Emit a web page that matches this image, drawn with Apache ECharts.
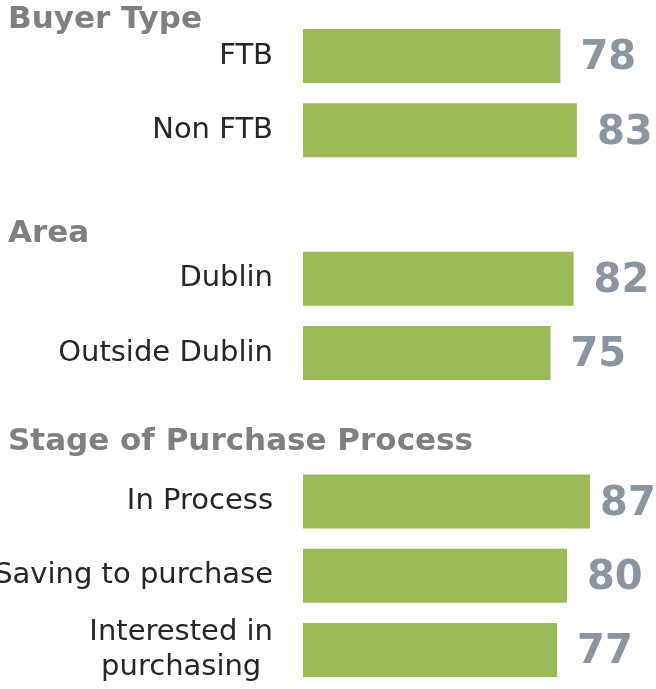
<!DOCTYPE html>
<html><head><meta charset="utf-8">
<script src="https://cdn.jsdelivr.net/npm/echarts@6/dist/echarts.min.js"></script>
<style>html,body{margin:0;padding:0;background:#fff}#c{width:656px;height:689px}</style>
</head><body><div id="c"></div>
<script>
const groupTitles = ['Buyer Type', 'Area', 'Stage of Purchase Process'];
const buyerCats = ['FTB', 'Non FTB'];
const buyerVals = [78, 83];
const areaCats = ['Dublin', 'Outside Dublin'];
const areaVals = [82, 75];
const stageCats = ['In Process', 'Saving to purchase', 'Interested in\npurchasing'];
const stageVals = [87, 80, 77];

const cats = [...buyerCats, ' ', ...areaCats, '  ', ...stageCats];
const vals = [...buyerVals, null, ...areaVals, null, ...stageVals];
const maxVal = Math.max(...vals.filter(v => v != null));
const seriesData = vals.map(v => v === maxVal ? { value: v, label: { distance: 10 } } : v);

const titleStyle = { fontSize: 31, fontWeight: 'bold', fontFamily: 'DejaVu Sans', fill: '#7F7F7F' };

const chart = echarts.init(document.getElementById('c'));
chart.setOption({
  animation: false,
  grid: { left: 303, right: 23, top: 18.9, bottom: 1.9, containLabel: false, outerBoundsMode: 'none' },
  xAxis: { type: 'value', min: 0, max: 100, show: false },
  yAxis: {
    type: 'category', data: cats, inverse: true,
    axisLine: { show: false }, axisTick: { show: false },
    axisLabel: {
      margin: 30, fontSize: 29, fontFamily: 'DejaVu Sans', color: '#262626',
      lineHeight: 35,
      formatter: v => v.split('\n').map(s => '{c|' + s + '}').join('\n'),
      rich: { c: { align: 'center', fontSize: 29, fontFamily: 'DejaVu Sans', color: '#262626', lineHeight: 35 } }
    }
  },
  series: [{
    type: 'bar', data: seriesData, barWidth: 54,
    itemStyle: { color: '#9BBB59' },
    label: { show: true, position: 'right', distance: 20, offset: [0, 3], fontSize: 40, fontWeight: 'bold', fontFamily: 'DejaVu Sans', color: '#8B959F' }
  }],
  graphic: [
    { type: 'text', left: 8, top: 4, style: Object.assign({ text: groupTitles[0] }, titleStyle) },
    { type: 'text', left: 8, top: 218, style: Object.assign({ text: groupTitles[1] }, titleStyle) },
    { type: 'text', left: 8, top: 426, style: Object.assign({ text: groupTitles[2] }, titleStyle) }
  ]
});
</script></body></html>
